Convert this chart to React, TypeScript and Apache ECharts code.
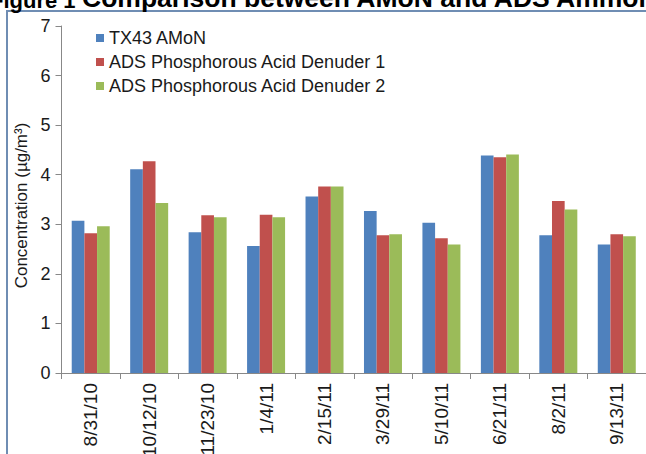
import React, { useEffect, useRef } from "react";
import * as echarts from "echarts";

const categories = ["8/31/10", "10/12/10", "11/23/10", "1/4/11", "2/15/11", "3/29/11", "5/10/11", "6/21/11", "8/2/11", "9/13/11"];
const seriesNames = ["TX43 AMoN", "ADS Phosphorous Acid Denuder 1", "ADS Phosphorous Acid Denuder 2"];
const amon = [3.07, 4.11, 2.84, 2.56, 3.56, 3.27, 3.03, 4.39, 2.78, 2.59];
const denuder1 = [2.82, 4.27, 3.18, 3.19, 3.76, 2.78, 2.72, 4.35, 3.47, 2.8];
const denuder2 = [2.96, 3.43, 3.14, 3.14, 3.76, 2.8, 2.59, 4.41, 3.3, 2.76];
const colors = ["#4F81BD", "#C0504D", "#9BBB59"];
const titleLead = "Figure 1";
const titleRest = "Comparison between AMoN and ADS Ammonia";

export default function App() {
  const ref = useRef<HTMLDivElement>(null);
  useEffect(() => {
    if (!ref.current) return;
    const chart = echarts.init(ref.current, null, { renderer: "svg" });
    const font = "Arial, 'Liberation Sans', sans-serif";
    const data = [amon, denuder1, denuder2];
    chart.setOption({
      animation: false,
      backgroundColor: "#ffffff",
      textStyle: { fontFamily: font },
      graphic: [
        {
          type: "rect",
          z: -10,
          shape: { x: 7, y: 11, width: 700, height: 500 },
          style: { fill: "#ffffff", stroke: "#6F8DB3", lineWidth: 2 },
        },
        {
          type: "text",
          x: -10,
          y: 11,
          style: {
            text: titleLead,
            font: "bold 22px Arial, 'Liberation Sans', sans-serif",
            fill: "#000",
            textVerticalAlign: "bottom",
          },
        },
        {
          type: "text",
          x: 82,
          y: 11.5,
          style: {
            text: titleRest,
            font: "bold 26.5px Arial, 'Liberation Sans', sans-serif",
            fill: "#000",
            textVerticalAlign: "bottom",
          },
        },
      ],
      legend: {
        orient: "vertical",
        left: 91,
        top: 24,
        padding: 5,
        itemWidth: 8,
        itemHeight: 8,
        itemGap: 6,
        icon: "rect",
        data: seriesNames,
        textStyle: { fontSize: 18, color: "#1a1a1a", lineHeight: 18, fontFamily: font },
      },
      grid: { left: 61.5, right: 0, top: 26, bottom: 81, containLabel: false, outerBoundsMode: "none" },
      xAxis: {
        type: "category",
        data: categories,
        axisLine: { lineStyle: { color: "#888888", width: 1 } },
        axisTick: { show: true, length: 6, lineStyle: { color: "#888888" } },
        axisLabel: { rotate: 90, fontSize: 19, color: "#1a1a1a", margin: 10, interval: 0, fontFamily: font },
      },
      yAxis: {
        type: "value",
        min: 0,
        max: 7,
        interval: 1,
        name: "Concentration (µg/m³)",
        nameLocation: "middle",
        nameGap: 31,
        nameRotate: 90,
        nameTextStyle: { fontSize: 17, color: "#1a1a1a", fontFamily: font, padding: [0, 12, 0, 0] },
        axisLine: { show: true, lineStyle: { color: "#888888", width: 1 } },
        axisTick: { show: true, length: 6, lineStyle: { color: "#888888" } },
        splitLine: { show: false },
        axisLabel: { fontSize: 18, color: "#1a1a1a", margin: 11, fontFamily: font },
      },
      series: seriesNames.map((name, i) => ({
        name,
        type: "bar",
        data: data[i],
        barGap: "0%",
        barCategoryGap: "35%",
        itemStyle: { color: colors[i] },
      })),
    });
    return () => chart.dispose();
  }, []);
  return <div ref={ref} style={{ position: "fixed", left: 0, top: 0, width: 646, height: 454 }} />;
}
